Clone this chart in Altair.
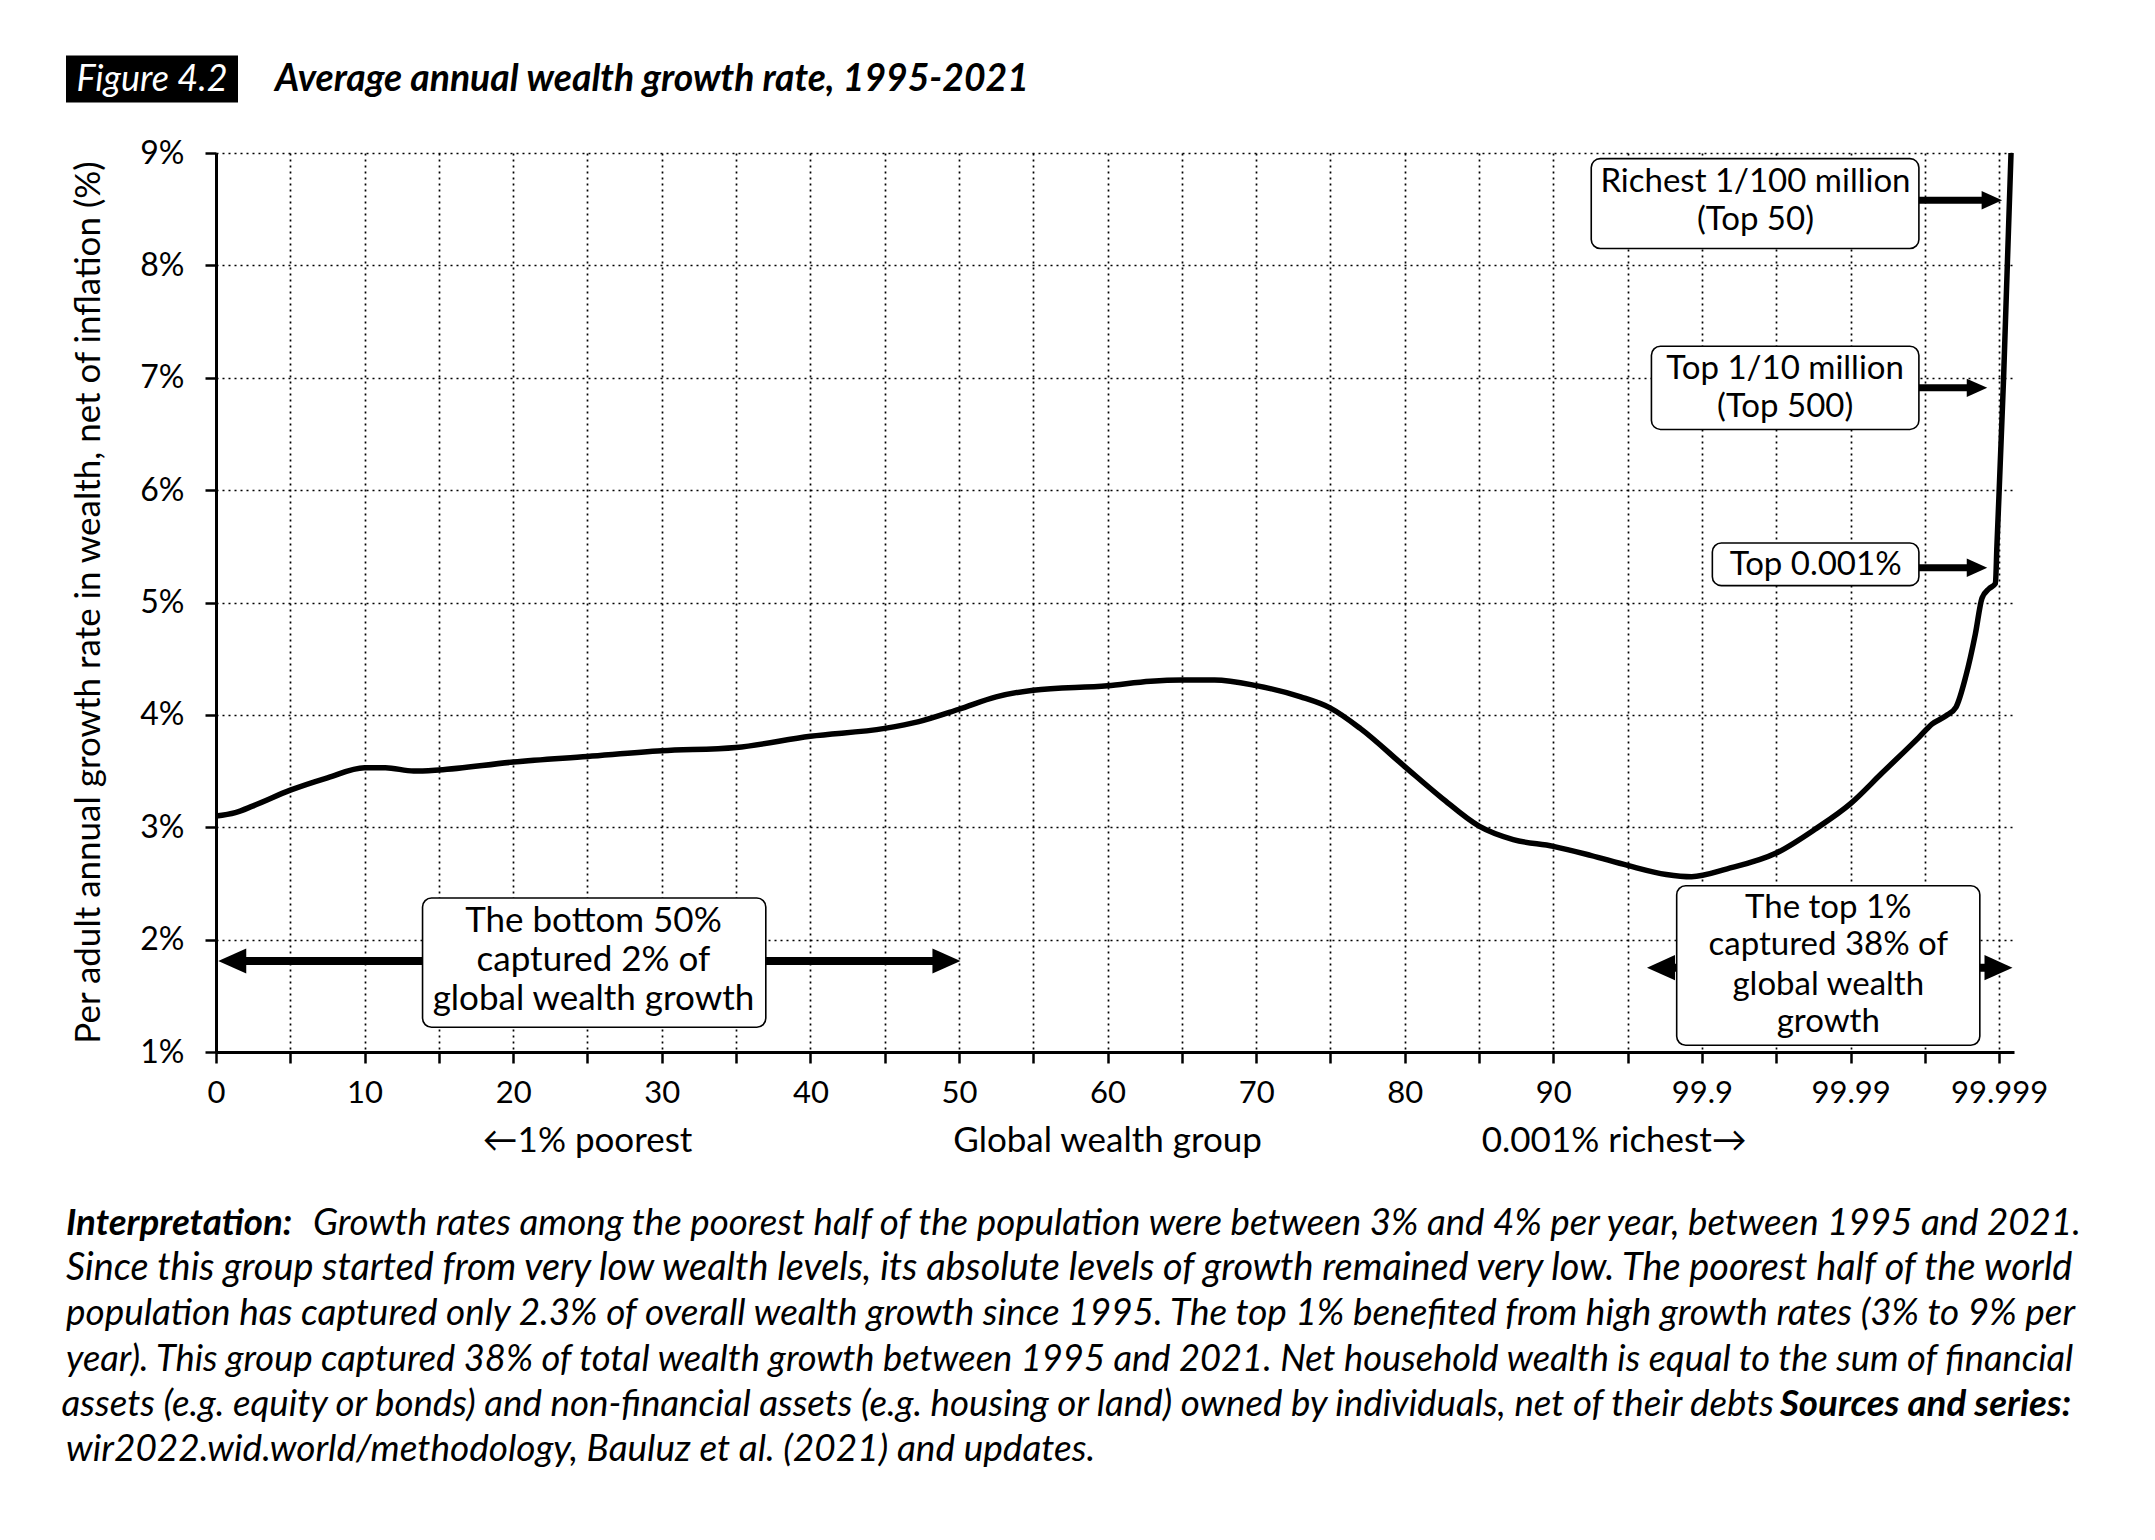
import altair as alt
import pandas as pd

# ---------------- data ----------------
# x position: 0..90 = percentile, 100 = 99.9, 110 = 99.99, 120 = 99.999
pos = [0, 1.3, 2.5, 5, 7.5, 10, 11.4, 13.3, 15, 20,
       25, 30, 35, 40, 45, 47.3, 50, 52.5, 55, 60,
       62.9, 65, 67.2, 70, 73, 75, 77, 80, 82.5, 85,
       87.3, 90, 92.5, 95, 97.6, 99.3, 101.7, 105, 107.7, 110,
       112.1, 114.6, 115.5, 116.4, 117.1, 117.75, 118.4, 118.85, 119.3, 119.75,
       119.85, 120.3, 120.8]
growth = [3.10, 3.13, 3.19, 3.33, 3.44, 3.53, 3.53, 3.50, 3.51, 3.58,
          3.63, 3.68, 3.71, 3.81, 3.88, 3.94, 4.05, 4.16, 4.22, 4.26,
          4.30, 4.31, 4.31, 4.26, 4.16, 4.06, 3.88, 3.54, 3.26, 3.01,
          2.89, 2.83, 2.75, 2.66, 2.58, 2.56, 2.63, 2.77, 2.99, 3.21,
          3.48, 3.80, 3.92, 3.99, 4.07, 4.34, 4.72, 5.04, 5.12, 5.17,
          5.50, 7.00, 9.00]

x_tick_labels = ["0", "10", "20", "30", "40", "50", "60", "70", "80", "90",
                 "99.9", "99.99", "99.999"]
y_ticks = [1, 2, 3, 4, 5, 6, 7, 8, 9]

title_tag = "Figure 4.2"
title_text = "Average annual wealth growth rate, 1995-2021"
y_title = "Per adult annual growth rate in wealth, net of inflation (%)"
x_group_labels = ["\u21901% poorest", "Global wealth group", "0.001% richest\u2192"]
x_group_pos = [25, 60, 94.1]

caption_lines = [
    "Growth rates among the poorest half of the population were between 3% and 4% per year, between 1995 and 2021.",
    "Since this group started from very low wealth levels, its absolute levels of growth remained very low. The poorest half of the world",
    "population has captured only 2.3% of overall wealth growth since 1995. The top 1% benefited from high growth rates (3% to 9% per",
    "year). This group captured 38% of total wealth growth between 1995 and 2021. Net household wealth is equal to the sum of financial",
    "assets (e.g. equity or bonds) and non-financial assets (e.g. housing or land) owned by individuals, net of their debts",
    "wir2022.wid.world/methodology, Bauluz et al. (2021) and updates.",
]
caption_bold = ["Interpretation:", "Sources and series:"]

# annotation boxes (data coordinates)
box_x1 = [13.9, 98.3, 92.55, 96.6, 100.7]
box_x2 = [37.0, 118.7, 114.6, 114.6, 114.6]
box_y1 = [2.37, 2.48, 8.95, 7.28, 5.53]
box_y2 = [1.22, 1.06, 8.15, 6.54, 5.15]

box_text_b50 = ["The bottom 50%", "captured 2% of", "global wealth growth"]
box_text_b50_x = [25.4, 25.4, 25.4]
box_text_b50_y = [2.17, 1.82, 1.47]

box_text_t1 = ["The top 1%", "captured 38% of", "global wealth", "growth"]
box_text_t1_x = [108.5, 108.5, 108.5, 108.5]
box_text_t1_y = [2.28, 1.95, 1.60, 1.27]

box_text_top = ["Richest 1/100 million", "(Top 50)",
                "Top 1/10 million", "(Top 500)",
                "Top 0.001%"]
box_text_top_x = [103.6, 103.6, 105.6, 105.6, 107.65]
box_text_top_y = [8.74, 8.40, 7.08, 6.74, 5.33]

# arrows
shaft_x1 = [0.8, 97.5, 114.6, 114.6, 114.6]
shaft_x2 = [48.5, 119.5, 119.0, 118.0, 118.0]
shaft_y = [1.81, 1.75, 8.58, 6.91, 5.31]
big_head_x = [0.15, 50.1, 96.3, 120.9]
big_head_y = [1.81, 1.81, 1.75, 1.75]
big_head_dir = ["left", "right", "left", "right"]
small_head_x = [120.2, 119.2, 119.2]
small_head_y = [8.58, 6.91, 5.31]
small_head_dir = ["right", "right", "right"]

# ---------------- build chart ----------------
RIGHT = "M0,0L-2,-0.9L-2,0.9Z"
LEFT = "M0,0L2,-0.9L2,0.9Z"
FONT = "Lato"

W, H = 1798, 899
XS = alt.Scale(domain=[0, 121], nice=False, zero=False)
YS = alt.Scale(domain=[1, 9], nice=False, zero=False)

arr = "[" + ",".join("'" + s + "'" for s in x_tick_labels) + "]"
x_label_expr = "datum.value % 10 == 0 ? " + arr + "[datum.value / 10] : ''"

curve_df = pd.DataFrame({"pos": pos, "growth": growth})

line = alt.Chart(curve_df).mark_line(
    color="black", strokeWidth=5.5, interpolate="monotone"
).encode(
    x=alt.X("pos:Q", scale=XS, title=None,
            axis=alt.Axis(values=list(range(0, 121, 5)), labelExpr=x_label_expr,
                          grid=True, gridDash=[2, 4], gridColor="black", gridWidth=1.7,
                          domainColor="black", domainWidth=3, tickColor="black",
                          tickWidth=2.5, tickSize=11, labelFontSize=31, labelFont=FONT,
                          labelColor="black", labelPadding=15, labelFlush=False,
                          labelOverlap=False)),
    y=alt.Y("growth:Q", scale=YS, title=None,
            axis=alt.Axis(values=y_ticks, labelExpr="datum.value + '%'",
                          grid=True, gridDash=[2, 4], gridColor="black", gridWidth=1.7,
                          domainColor="black", domainWidth=3, tickColor="black",
                          tickWidth=2.5, tickSize=11, labelFontSize=32, labelFont=FONT,
                          labelColor="black", labelPadding=21)),
)

shaft_df = pd.DataFrame({"x1": shaft_x1, "x2": shaft_x2, "y": shaft_y})
shafts_big = alt.Chart(shaft_df.iloc[:2]).mark_rule(color="black", strokeWidth=8).encode(
    x=alt.X("x1:Q", scale=XS), x2="x2:Q", y=alt.Y("y:Q", scale=YS))
shafts_small = alt.Chart(shaft_df.iloc[2:]).mark_rule(color="black", strokeWidth=7).encode(
    x=alt.X("x1:Q", scale=XS), x2="x2:Q", y=alt.Y("y:Q", scale=YS))

big_df = pd.DataFrame({"x": big_head_x, "y": big_head_y,
                       "shape": [LEFT if d == "left" else RIGHT for d in big_head_dir]})
small_df = pd.DataFrame({"x": small_head_x, "y": small_head_y,
                         "shape": [LEFT if d == "left" else RIGHT for d in small_head_dir]})
heads_big = alt.Chart(big_df).mark_point(filled=True, color="black", opacity=1,
                                          size=784, strokeWidth=0).encode(
    x=alt.X("x:Q", scale=XS), y=alt.Y("y:Q", scale=YS),
    shape=alt.Shape("shape:N", scale=None))
heads_small = alt.Chart(small_df).mark_point(filled=True, color="black", opacity=1,
                                              size=420, strokeWidth=0).encode(
    x=alt.X("x:Q", scale=XS), y=alt.Y("y:Q", scale=YS),
    shape=alt.Shape("shape:N", scale=None))

box_df = pd.DataFrame({"x1": box_x1, "x2": box_x2, "y1": box_y1, "y2": box_y2})
boxes = alt.Chart(box_df).mark_rect(fill="white", stroke="black", strokeWidth=1.6,
                                    cornerRadius=9).encode(
    x=alt.X("x1:Q", scale=XS), x2="x2:Q",
    y=alt.Y("y1:Q", scale=YS), y2="y2:Q")


def box_text_layer(texts, xs, ys, size):
    df = pd.DataFrame({"t": texts, "x": xs, "y": ys})
    return alt.Chart(df).mark_text(font=FONT, fontSize=size, color="black",
                                   align="center", baseline="middle").encode(
        x=alt.X("x:Q", scale=XS), y=alt.Y("y:Q", scale=YS), text="t:N")


bt_b50 = box_text_layer(box_text_b50, box_text_b50_x, box_text_b50_y, 35)
bt_t1 = box_text_layer(box_text_t1, box_text_t1_x, box_text_t1_y, 33)
bt_top = box_text_layer(box_text_top, box_text_top_x, box_text_top_y, 33)

grp_df = pd.DataFrame({"t": x_group_labels, "x": x_group_pos})
group_texts = alt.Chart(grp_df).mark_text(font=FONT, fontSize=35, color="black",
                                          align="center", baseline="middle").encode(
    x=alt.X("x:Q", scale=XS), y=alt.value(H + 89), text="t:N")

one = pd.DataFrame({"t": [y_title]})
ytitle = alt.Chart(one).mark_text(font=FONT, fontSize=35, color="black", angle=270,
                                  align="center", baseline="middle").encode(
    x=alt.value(-127), y=alt.value(H / 2), text="t:N")

tag_df = pd.DataFrame({"t": [title_tag]})
tag_box = alt.Chart(tag_df).mark_rect(color="black").encode(
    x=alt.value(-150), x2=alt.value(22), y=alt.value(-97.6), y2=alt.value(-50.6))
tag_text = alt.Chart(tag_df).mark_text(font=FONT, fontSize=36, fontStyle="italic",
                                       color="white", align="center",
                                       baseline="middle").encode(
    x=alt.value(-64), y=alt.value(-73), text="t:N")
ttl_df = pd.DataFrame({"t": [title_text]})
ttl = alt.Chart(ttl_df).mark_text(font=FONT, fontSize=37.3, fontStyle="italic",
                                  fontWeight="bold", color="black", align="left",
                                  baseline="middle").encode(
    x=alt.value(59), y=alt.value(-73), text="t:N")

# caption: per-line size chosen so that each line fills the same width (justified look)
cap_y = [1070.6, 1116, 1161.4, 1206.6, 1252, 1297.4]
cap_x = [97, -150, -150, -150, 1558, -150]
cap_align = ["left", "left", "left", "left", "right", "left"]
cap_size = [36.7, 37.8, 36.9, 36.3, 36.7, 37]
cap_df = pd.DataFrame({"t": caption_lines, "y": cap_y, "x": cap_x, "a": cap_align,
                       "s": cap_size})
cap_left = alt.Chart(cap_df[cap_df.a == "left"]).mark_text(
    font=FONT, fontStyle="italic", color="black", align="left",
    baseline="middle").encode(
    x=alt.X("x:Q", scale=None), y=alt.Y("y:Q", scale=None), text="t:N",
    size=alt.Size("s:Q", scale=None, legend=None))
cap_right = alt.Chart(cap_df[cap_df.a == "right"]).mark_text(
    font=FONT, fontStyle="italic", color="black", align="right",
    baseline="middle").encode(
    x=alt.X("x:Q", scale=None), y=alt.Y("y:Q", scale=None), text="t:N",
    size=alt.Size("s:Q", scale=None, legend=None))
bold_df = pd.DataFrame({"t": caption_bold, "x": [-150, 1564], "y": [1070.6, 1252],
                        "s": [36.7, 36.7]})
cap_bold = alt.Chart(bold_df).mark_text(
    font=FONT, fontStyle="italic", fontWeight="bold", color="black",
    align="left", baseline="middle").encode(
    x=alt.X("x:Q", scale=None), y=alt.Y("y:Q", scale=None), text="t:N",
    size=alt.Size("s:Q", scale=None, legend=None))

chart = alt.layer(
    line, shafts_big, shafts_small, heads_big, heads_small, boxes, bt_b50, bt_t1,
    bt_top, group_texts, ytitle, tag_box, tag_text, ttl, cap_left, cap_right,
    cap_bold
).resolve_scale(x="shared", y="shared").properties(
    width=W, height=H,
    padding={"left": 208, "top": 145, "right": 120, "bottom": 470},
    autosize=alt.AutoSizeParams(type="none"),
    background="white",
).configure_view(stroke=None)

chart.save("out.html", embed_options={"renderer": "svg", "actions": False})
